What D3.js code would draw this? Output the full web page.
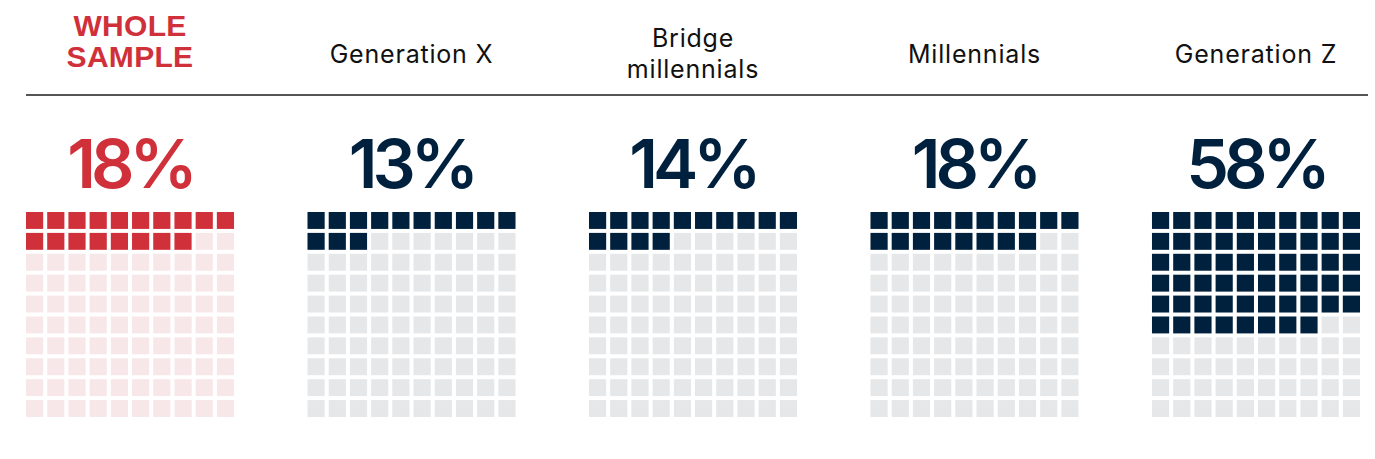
<!DOCTYPE html>
<html>
<head>
<meta charset="utf-8">
<script src="https://cdn.jsdelivr.net/npm/d3@7"></script>
<style>
  body { margin: 0; background: #fff; }
</style>
</head>
<body>
<div id="chart"></div>
<script>
const groups = ["WHOLE SAMPLE", "Generation X", "Bridge millennials", "Millennials", "Generation Z"];
const titleLines = [["WHOLE", "SAMPLE"], ["Generation X"], ["Bridge", "millennials"], ["Millennials"], ["Generation Z"]];
const values = [18, 13, 14, 18, 58];
const highlight = [true, false, false, false, false];

const width = 1375, height = 459;

const svg = d3.select("#chart")
  .append("svg")
  .attr("width", width)
  .attr("height", height);

// one slot per group, waffles are 208px wide
const x = d3.scaleBand()
  .domain(groups)
  .range([26, 1360])
  .paddingInner(0.261)
  .paddingOuter(0);

const waffleW = x.bandwidth();
const cells = d3.range(100);
const col = d3.scaleBand().domain(d3.range(10)).range([0, waffleW]).paddingInner(0.19);
const row = d3.scaleBand().domain(d3.range(10)).range([212, 417]).paddingInner(0.19);

// header rule
svg.append("line")
  .attr("x1", 26).attr("x2", 1368)
  .attr("y1", 95).attr("y2", 95)
  .attr("stroke", "#555")
  .attr("stroke-width", 2);

const g = svg.selectAll("g.group")
  .data(groups)
  .join("g")
  .attr("class", "group")
  .attr("transform", d => `translate(${x(d)},0)`);

g.each(function (d, i) {
  const el = d3.select(this);
  const lines = titleLines[i];
  const hi = highlight[i];
  const y0 = lines.length === 1 ? 63 : (hi ? 36 : 47);
  el.append("text")
    .attr("text-anchor", "middle")
    .attr("font-family", hi ? "Liberation Sans, Arial, sans-serif" : "Inter, sans-serif")
    .attr("font-weight", hi ? 700 : 400)
    .attr("font-size", hi ? 30 : 25)
    .attr("letter-spacing", hi ? 0.3 : 0.8)
    .attr("fill", hi ? "#d0303a" : "#111")
    .selectAll("tspan")
    .data(lines)
    .join("tspan")
    .attr("x", waffleW / 2)
    .attr("y", (l, j) => y0 + j * 31)
    .text(l => l);

  el.append("text")
    .attr("x", waffleW / 2)
    .attr("y", 188)
    .attr("text-anchor", "middle")
    .attr("font-family", "Inter, sans-serif")
    .attr("font-weight", 600)
    .attr("font-size", 68)
    .attr("letter-spacing", -5)
    .attr("fill", hi ? "#d0303a" : "#00213e")
    .text(values[i] + "%");

  el.selectAll("rect")
    .data(cells)
    .join("rect")
    .attr("x", c => col(c % 10))
    .attr("y", c => row(Math.floor(c / 10)))
    .attr("width", col.bandwidth())
    .attr("height", row.bandwidth())
    .attr("fill", c => c < values[i]
      ? (hi ? "#d0303a" : "#00213e")
      : (hi ? "#f8e7e9" : "#e6e7e9"));
});
</script>
</body>
</html>
